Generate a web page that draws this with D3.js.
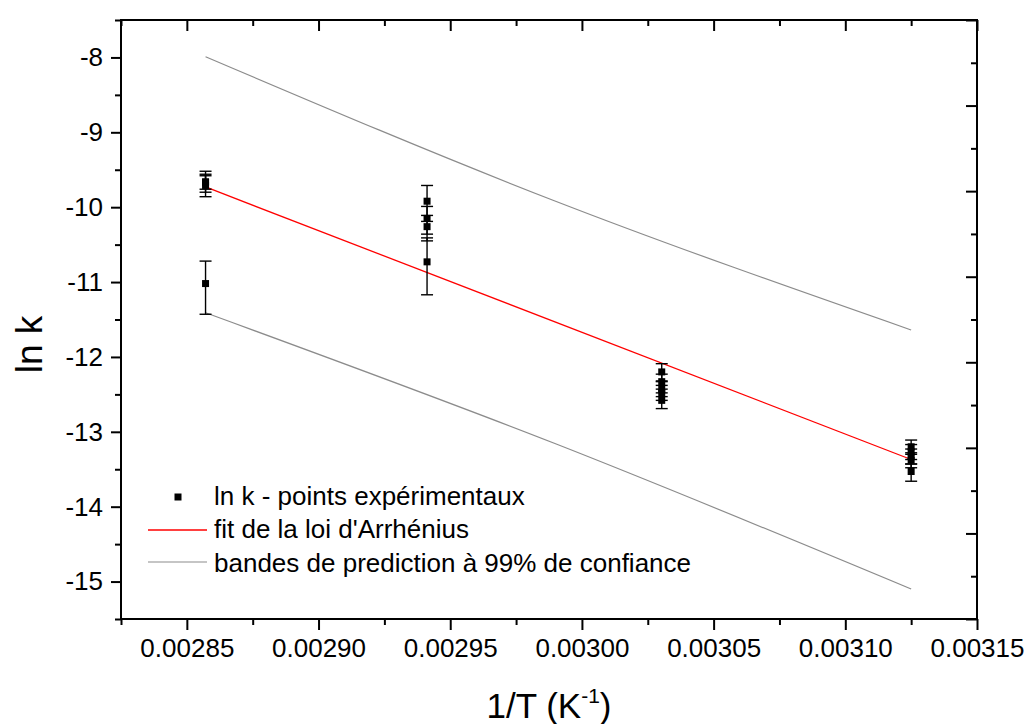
<!DOCTYPE html>
<html>
<head>
<meta charset="utf-8">
<script src="https://cdn.jsdelivr.net/npm/d3@7"></script>
<style>
  html, body { margin: 0; padding: 0; background: #fff; }
  svg { display: block; font-family: "Liberation Sans", Arial, sans-serif; }
</style>
</head>
<body>
<svg id="chart" width="1027" height="724"></svg>
<script>
// ---- data ----
const pointInvT = [
  0.0028571, 0.0028571, 0.0028571, 0.0028571,
  0.0029412, 0.0029412, 0.0029412, 0.0029412,
  0.0030303, 0.0030303, 0.0030303, 0.0030303, 0.0030303,
  0.0031250, 0.0031250, 0.0031250, 0.0031250, 0.0031250
];
const pointLnK = [
  -9.66, -9.67, -9.71, -11.02,
  -9.92, -10.15, -10.26, -10.73,
  -12.20, -12.33, -12.43, -12.48, -12.58,
  -13.20, -13.27, -13.33, -13.38, -13.53
];
const errPlus = [
  0.14, 0.09, 0.15, 0.30,
  0.21, 0.16, 0.15, 0.32,
  0.11, 0.10, 0.10, 0.10, 0.10,
  0.09, 0.10, 0.10, 0.10, 0.10
];
const errMinus = [
  0.14, 0.09, 0.15, 0.41,
  0.27, 0.21, 0.19, 0.44,
  0.12, 0.10, 0.10, 0.10, 0.11,
  0.10, 0.10, 0.10, 0.10, 0.13
];
const fitInvT = [0.0028571, 0.0031250];
const fitLnK = [-9.73, -13.37];
const bandInvT = [0.0028571, 0.0029900, 0.0031250];
const upperBand = [-7.99, -9.92, -11.64];
const lowerBand = [-11.41, -13.16, -15.10];
const xMajorTicks = [0.00285, 0.00290, 0.00295, 0.00300, 0.00305, 0.00310, 0.00315];
const xMinorTicks = [0.002825, 0.002875, 0.002925, 0.002975, 0.003025, 0.003075, 0.003125];
const yMajorTicks = [-8, -9, -10, -11, -12, -13, -14, -15];
const yMinorTicks = [-7.5, -8.5, -9.5, -10.5, -11.5, -12.5, -13.5, -14.5, -15.5];
const rightMajorTicks = [0, 1, 2, 3, 4, 5, 6, 7];
const rightMinorTicks = [0.5, 1.5, 2.5, 3.5, 4.5, 5.5, 6.5];
const legendLabels = ["ln k - points expérimentaux", "fit de la loi d'Arrhénius", "bandes de prediction à 99% de confiance"];
const xTitle = "1/T (K";
const xTitleSup = "-1";
const yTitle = "ln k";

// ---- layout ----
const L = 121, R = 977, T = 20, B = 619;
const svg = d3.select("#chart");
const x = d3.scaleLinear().domain([0.002825, 0.00315]).range([L, R]);
const y = d3.scaleLinear().domain([-15.5, -7.5]).range([B, T]);
const yR = d3.scaleLinear().domain([0, 7]).range([B, T]);

function styleAxis(g) {
  g.select(".domain").remove();
  g.selectAll(".tick line").attr("stroke", "#000").attr("stroke-width", 2);
  g.selectAll(".tick text").attr("fill", "#000");
}

// bottom axis
svg.append("g").attr("transform", `translate(0,${B})`)
  .call(d3.axisBottom(x).tickValues(xMajorTicks).tickSize(11).tickPadding(9)
    .tickFormat(d3.format(".5f")))
  .call(styleAxis)
  .call(g => g.selectAll(".tick text").attr("font-size", 26).attr("font-family", "Liberation Sans, Arial, sans-serif"));
svg.append("g").attr("transform", `translate(0,${B})`)
  .call(d3.axisBottom(x).tickValues(xMinorTicks).tickSize(6).tickFormat(""))
  .call(styleAxis);
// top axis (inward ticks)
svg.append("g").attr("transform", `translate(0,${T})`)
  .call(d3.axisBottom(x).tickValues(xMajorTicks).tickSize(11).tickFormat(""))
  .call(styleAxis);
svg.append("g").attr("transform", `translate(0,${T})`)
  .call(d3.axisBottom(x).tickValues(xMinorTicks).tickSize(6).tickFormat(""))
  .call(styleAxis);
// left axis
svg.append("g").attr("transform", `translate(${L},0)`)
  .call(d3.axisLeft(y).tickValues(yMajorTicks).tickSize(10).tickPadding(8)
    .tickFormat(d => String(d).replace("\u2212", "-")))
  .call(styleAxis)
  .call(g => g.selectAll(".tick text").attr("font-size", 26).attr("font-family", "Liberation Sans, Arial, sans-serif"));
svg.append("g").attr("transform", `translate(${L},0)`)
  .call(d3.axisLeft(y).tickValues(yMinorTicks).tickSize(6).tickFormat(""))
  .call(styleAxis);
// right axis (inward ticks, own scale)
svg.append("g").attr("transform", `translate(${R},0)`)
  .call(d3.axisRight(yR).tickValues(rightMajorTicks).tickSize(-11).tickFormat(""))
  .call(styleAxis);
svg.append("g").attr("transform", `translate(${R},0)`)
  .call(d3.axisRight(yR).tickValues(rightMinorTicks).tickSize(-6).tickFormat(""))
  .call(styleAxis);

// frame
svg.append("rect").attr("x", L).attr("y", T).attr("width", R - L).attr("height", B - T)
  .attr("fill", "none").attr("stroke", "#000").attr("stroke-width", 2);

// prediction bands
const bandLine = d3.line().x(d => x(d[0])).y(d => y(d[1])).curve(d3.curveNatural);
[upperBand, lowerBand].forEach(band => {
  svg.append("path").datum(bandInvT.map((v, i) => [v, band[i]]))
    .attr("d", bandLine).attr("fill", "none").attr("stroke", "#8c8c8c").attr("stroke-width", 1.2);
});

// fit line
svg.append("path").datum(fitInvT.map((v, i) => [v, fitLnK[i]]))
  .attr("d", d3.line().x(d => x(d[0])).y(d => y(d[1])))
  .attr("fill", "none").attr("stroke", "#ff0000").attr("stroke-width", 1.3);

// error bars
const pts = pointInvT.map((v, i) => ({ x: v, y: pointLnK[i], ep: errPlus[i], em: errMinus[i] }));
const eb = svg.append("g").attr("stroke", "#000").attr("stroke-width", 1.4);
pts.forEach(p => {
  const cx = x(p.x);
  eb.append("line").attr("x1", cx).attr("x2", cx).attr("y1", y(p.y + p.ep)).attr("y2", y(p.y - p.em));
  eb.append("line").attr("x1", cx - 6).attr("x2", cx + 6).attr("y1", y(p.y + p.ep)).attr("y2", y(p.y + p.ep));
  eb.append("line").attr("x1", cx - 6).attr("x2", cx + 6).attr("y1", y(p.y - p.em)).attr("y2", y(p.y - p.em));
});
svg.append("g").selectAll("rect").data(pts).join("rect")
  .attr("x", d => x(d.x) - 3.5).attr("y", d => y(d.y) - 3.5)
  .attr("width", 7).attr("height", 7).attr("fill", "#000");

// legend
const lg = svg.append("g").attr("font-size", 26);
lg.append("rect").attr("x", 174.5).attr("y", 493.5).attr("width", 7).attr("height", 7).attr("fill", "#000");
lg.append("line").attr("x1", 148).attr("x2", 207).attr("y1", 530).attr("y2", 530).attr("stroke", "#ff0000").attr("stroke-width", 1.3);
lg.append("line").attr("x1", 148).attr("x2", 207).attr("y1", 562).attr("y2", 562).attr("stroke", "#8c8c8c").attr("stroke-width", 1.2);
const legendY = [505, 538, 572];
legendLabels.forEach((t, i) => {
  lg.append("text").attr("x", 214).attr("y", legendY[i]).attr("fill", "#000").text(t);
});

// axis titles
const xt = svg.append("text").attr("x", (L + R) / 2).attr("y", 718).attr("text-anchor", "middle")
  .attr("font-size", 35).attr("fill", "#000");
xt.append("tspan").text(xTitle);
xt.append("tspan").attr("font-size", 21).attr("dy", -15).text(xTitleSup);
xt.append("tspan").attr("dy", 15).text(")");

svg.append("text").attr("transform", `translate(42,${(T + B) / 2 + 25}) rotate(-90)`)
  .attr("text-anchor", "middle").attr("font-size", 37).attr("fill", "#000").text(yTitle);
</script>
</body>
</html>
